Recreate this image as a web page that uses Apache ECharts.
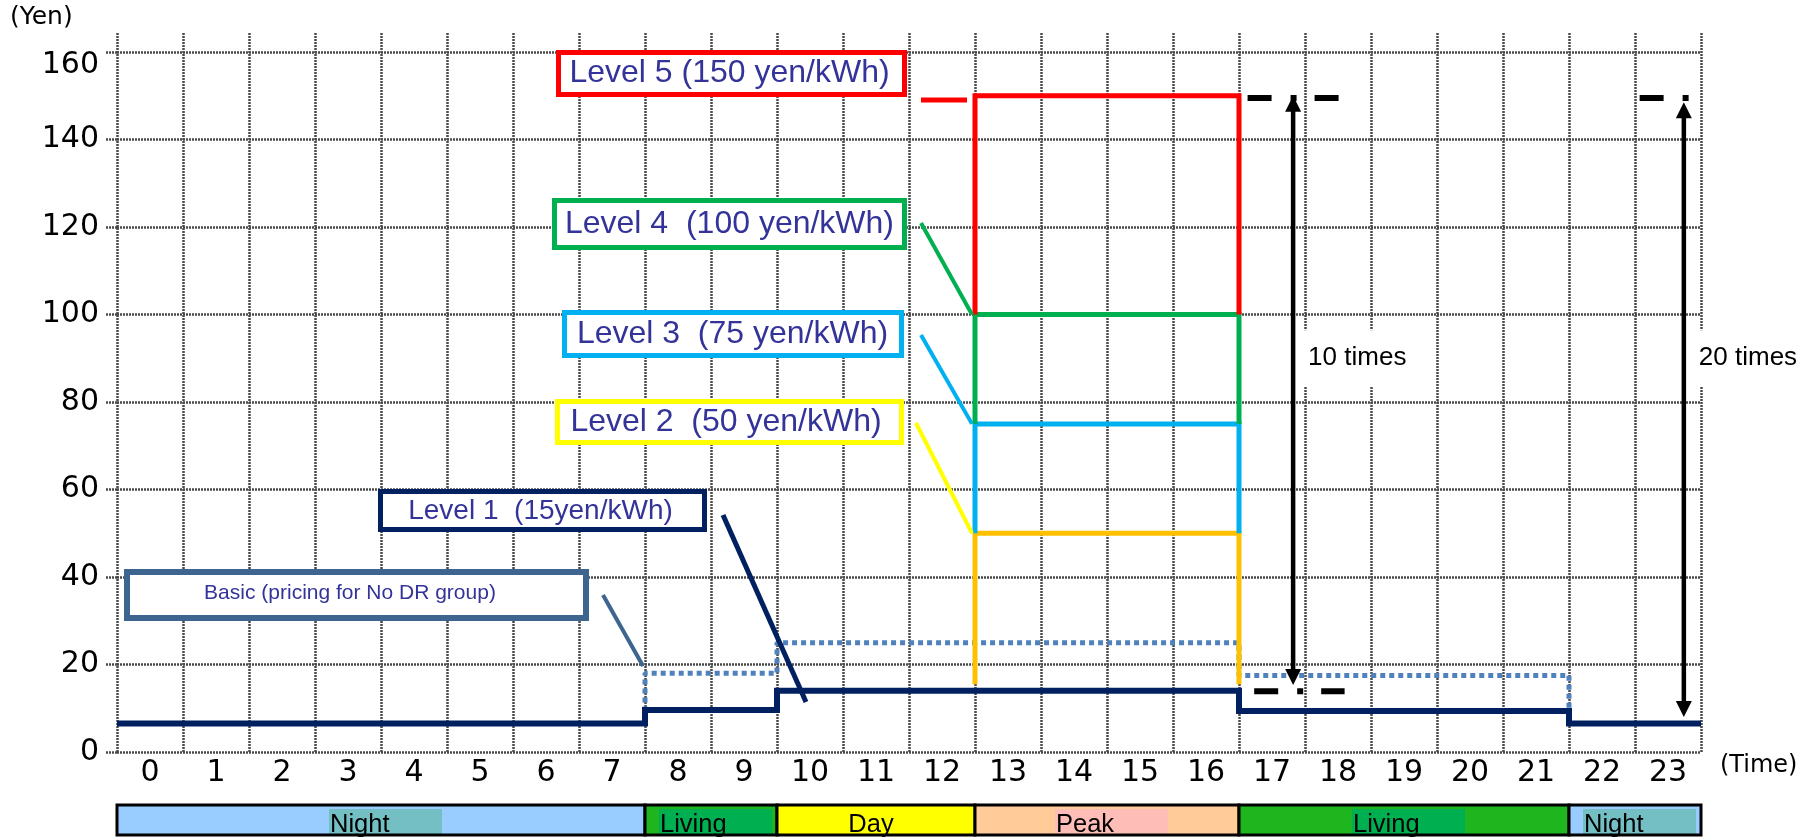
<!DOCTYPE html>
<html><head><meta charset="utf-8">
<script src="https://cdn.jsdelivr.net/npm/echarts@6/dist/echarts.min.js"></script>
<style>html,body{margin:0;padding:0;background:#fff}#c{width:1812px;height:840px}</style>
</head><body><div id="c"></div>
<script>
// ---------- data ----------
const hourLabels = ['0','1','2','3','4','5','6','7','8','9','10','11','12','13','14','15','16','17','18','19','20','21','22','23'];
const level1Price = [6.5,6.5,6.5,6.5,6.5,6.5,6.5,6.5, 9.6,9.6, 14,14,14,14,14,14,14, 9.4,9.4,9.4,9.4,9.4, 6.5,6.5];
const basicPrice  = [6.5,6.5,6.5,6.5,6.5,6.5,6.5,6.5, 18,18, 25,25,25,25,25,25,25, 17.5,17.5,17.5,17.5,17.5, 6.5,6.5];
const peakHours   = [13,14,15,16];
const level2Price = [50,50,50,50];
const level3Price = [75,75,75,75];
const level4Price = [100,100,100,100];
const level5Price = [150,150,150,150];
const peakLegBase = [15.5, 50, 75, 100];
const bandNames = ['Night','Living','Day','Peak','Living','Night'];
const bandStart = [0,8,10,13,17,22];
const bandEnd   = [8,10,13,17,22,24];
const ratioLabels = ['10 times','20 times'];
const ratioLow  = [15.3, 8];
const ratioHigh = [150, 148.5];
const refValues = [149.5, 13.9, 149.5];

// ---------- layout / styles ----------
const ratioHour = [17.82, 23.74];
const ratioTextAt = 90;
const refSpan = [[17.13,18.51],[17.23,18.6],[23.07,24.44]];
const levelColors = ['#ffc000','#00b0f0','#00b050','#ff0000'];
const bandFill = {Night:'#99ccff', Living:'#1fb51f', Day:'#ffff00', Peak:'#ffcc99'};
const bandHi = {Night:'#74bfc4', Living:'#00b050', Day:null, Peak:'#ffbdb7'};
const gridLine = {color:'#4a4a4a', width:2.5, type:[2,1]};
const tickFont = 'DejaVu Sans';

function hourly(values){
  const pts = values.map((v,i)=>[i, v]);
  pts.push([values.length, values[values.length-1]]);
  return pts;
}
function peakPath(values, base){
  const pts = [[peakHours[0], base]];
  peakHours.forEach((h,i)=>pts.push([h, values[i]]));
  const end = peakHours[peakHours.length-1] + 1;
  pts.push([end, values[values.length-1]]);
  pts.push([end, base]);
  return pts;
}

const chart = echarts.init(document.getElementById('c'), null, {renderer:'canvas'});
const peakSets = [level2Price, level3Price, level4Price, level5Price];

const series = [
  {type:'line', xAxisIndex:0, yAxisIndex:0, step:'end', data:hourly(basicPrice), symbol:'none', z:2,
   lineStyle:{color:'#4f81bd', width:5, type:[5,4], cap:'butt'}},
  {type:'line', xAxisIndex:0, yAxisIndex:0, step:'end', data:hourly(level1Price), symbol:'none', z:3,
   lineStyle:{color:'#002060', width:6, join:'miter'}}
];
peakSets.forEach((vals,i)=>{
  series.push({type:'line', xAxisIndex:0, yAxisIndex:0, step:'end', data:peakPath(vals, peakLegBase[i]),
    symbol:'none', z:4+i, clip:false, lineStyle:{color:levelColors[i], width:5, join:'miter', cap:'butt'}});
});
refValues.forEach((v,i)=>{
  series.push({type:'line', xAxisIndex:0, yAxisIndex:0, data:[[refSpan[i][0], v],[refSpan[i][1], v]],
    symbol:'none', z:9, clip:false, lineStyle:{color:'#000', width:6, type:[24,19,6,18], cap:'butt'}});
});
series.push({
  type:'custom', coordinateSystem:'cartesian2d', xAxisIndex:0, yAxisIndex:0, z:10, clip:false,
  encode:{x:0, y:[1,2]},
  data: ratioLabels.map((t,i)=>[ratioHour[i], ratioLow[i], ratioHigh[i], i]),
  renderItem:function(params, api){
    const x = api.value(0), lo = api.value(1), hi = api.value(2), idx = api.value(3);
    const pLo = api.coord([x, lo]), pHi = api.coord([x, hi]);
    const pT = api.coord([x, ratioTextAt]);
    const hw = 8, hl = 16;
    return {type:'group', children:[
      {type:'text', style:{text:ratioLabels[idx], x:pLo[0]+10, y:pT[1], font:'26px "Liberation Sans", Arial', fill:'#000',
        align:'left', verticalAlign:'middle', backgroundColor:'#fff', padding:[15,4,15,5]}},
      {type:'line', shape:{x1:pLo[0], y1:pLo[1]-hl+2, x2:pHi[0], y2:pHi[1]+hl-2}, style:{stroke:'#000', lineWidth:4.5}},
      {type:'polygon', shape:{points:[[pHi[0],pHi[1]],[pHi[0]-hw,pHi[1]+hl],[pHi[0]+hw,pHi[1]+hl]]}, style:{fill:'#000'}},
      {type:'polygon', shape:{points:[[pLo[0],pLo[1]],[pLo[0]-hw,pLo[1]-hl],[pLo[0]+hw,pLo[1]-hl]]}, style:{fill:'#000'}}
    ]};
  }
});
series.push({
  type:'custom', coordinateSystem:'cartesian2d', xAxisIndex:3, yAxisIndex:2, z:5, clip:false,
  encode:{x:[0,1], y:[2,3]},
  data: bandNames.map((n,i)=>[bandStart[i], bandEnd[i], 0, 1, i]),
  renderItem:function(params, api){
    const s = api.value(0), e = api.value(1), idx = api.value(4);
    const name = bandNames[idx];
    const p0 = api.coord([s, 1]), p1 = api.coord([e, 0]);
    const w = p1[0]-p0[0], h = p1[1]-p0[1];
    const cx = (p0[0]+p1[0])/2;
    const children = [{type:'rect', shape:{x:p0[0], y:p0[1], width:w, height:h}, style:{fill:bandFill[name]}}];
    const hi = bandHi[name];
    const ty = p1[1]-10.5;
    const font = '25.5px "Liberation Sans", Arial';
    if (hi) {
      const hx = cx + 4.5 - 56.5;
      children.push({type:'rect', shape:{x:hx, y:p0[1]+4, width:113, height:h-5}, style:{fill:hi}});
      children.push({type:'text', style:{text:name, x:hx+1, y:ty, font:font, fill:'#000', align:'left', verticalAlign:'middle'}});
    } else {
      children.push({type:'text', style:{text:name, x:cx-5, y:ty, font:font, fill:'#000', align:'center', verticalAlign:'middle'}});
    }
    children.push({type:'rect', shape:{x:p0[0], y:p0[1], width:w, height:h}, style:{fill:null, stroke:'#000', lineWidth:3}});
    return {type:'group', children:children};
  }
});

const option = {
  animation:false,
  backgroundColor:'#fff',
  title:{text:'(Yen)', left:10, top:5, padding:0,
    textStyle:{fontFamily:tickFont, fontSize:25, fontWeight:'normal', color:'#000'}},
  grid:[
    {left:117, right:111, top:52, bottom:88, outerBoundsMode:'none'},
    {left:117, right:111, top:33, bottom:88, outerBoundsMode:'none'},
    {left:117, right:111, top:805, height:30, outerBoundsMode:'none'}
  ],
  xAxis:[
    {gridIndex:0, type:'value', min:0, max:24, show:false},
    {gridIndex:0, type:'category', data:hourLabels, boundaryGap:true, position:'bottom',
     axisLine:{show:false}, axisTick:{show:false}, splitLine:{show:false},
     axisLabel:{interval:0, margin:6, fontFamily:tickFont, fontSize:30, color:'#000'},
     name:'(Time)', nameLocation:'end', nameGap:19,
     nameTextStyle:{fontFamily:tickFont, fontSize:24, color:'#000', verticalAlign:'top', padding:[2,0,0,0]}},
    {gridIndex:1, type:'value', min:0, max:24, interval:1, axisLine:{show:false}, axisTick:{show:false},
     axisLabel:{show:false}, splitLine:{show:true, lineStyle:gridLine}},
    {gridIndex:2, type:'value', min:0, max:24, show:false}
  ],
  yAxis:[
    {gridIndex:0, type:'value', min:0, max:160, interval:20,
     axisLine:{show:false}, axisTick:{show:true, length:11, lineStyle:gridLine},
     splitLine:{show:true, lineStyle:gridLine},
     axisLabel:{margin:18, fontFamily:tickFont, fontSize:30, color:'#000',
       formatter:function(v){ return v === 160 ? '{top|160}' : String(v); },
       rich:{top:{padding:[26,0,0,0], fontFamily:tickFont, fontSize:30, color:'#000'}}}},
    {gridIndex:1, type:'value', min:0, max:1, show:false},
    {gridIndex:2, type:'value', min:0, max:1, show:false}
  ],
  series:series
};
chart.setOption(option);

// ---------- annotation boxes ----------
const toPx = (pt)=>chart.convertToPixel({seriesIndex:1}, pt);
const c100 = toPx([13,100]), c75 = toPx([13,75]), c50 = toPx([13,50]);
const textColor = '#333399';
const boxes = [
  {text:'Level 5 (150 yen/kWh)', x:558.5, y:52.5, w:346, h:42, color:'#ff0000', lw:5, fs:32, tx:729.5, ty:73.5},
  {text:'Level 4  (100 yen/kWh)', x:554.5, y:200.5, w:350, h:47, color:'#00b050', lw:5, fs:32, tx:729.5, ty:224.5},
  {text:'Level 3  (75 yen/kWh)', x:564.5, y:312.5, w:337, h:43, color:'#00b0f0', lw:5, fs:32, tx:732.5, ty:334.5},
  {text:'Level 2  (50 yen/kWh)', x:557.5, y:401.5, w:344, h:41, color:'#ffff00', lw:5, fs:32, tx:726, ty:422.5},
  {text:'Level 1  (15yen/kWh)', x:380.5, y:491.5, w:324, h:38, color:'#002060', lw:5, fs:28, tx:540.5, ty:511},
  {text:'Basic (pricing for No DR group)', x:127, y:572, w:459, h:46, color:'#3d6590', lw:6, fs:21, tx:350, ty:593}
];
const leaders = [
  {x1:921, y1:100, x2:967, y2:100, color:'#ff0000', lw:5},
  {x1:921, y1:223, x2:c100[0]-3, y2:c100[1], color:'#00b050', lw:4},
  {x1:921, y1:335, x2:c75[0]-3, y2:c75[1], color:'#00b0f0', lw:4},
  {x1:916, y1:423, x2:c50[0]-3, y2:c50[1], color:'#ffff00', lw:4},
  {x1:723, y1:515, x2:806, y2:702, color:'#002060', lw:5},
  {x1:603, y1:595, x2:643, y2:666, color:'#3d6590', lw:4}
];
const graphic = [];
leaders.forEach(l=>graphic.push({type:'line', z:100, shape:{x1:l.x1,y1:l.y1,x2:l.x2,y2:l.y2},
  style:{stroke:l.color, lineWidth:l.lw}}));
boxes.forEach(b=>{
  graphic.push({type:'rect', z:101, shape:{x:b.x, y:b.y, width:b.w, height:b.h},
    style:{fill:'#fff', stroke:b.color, lineWidth:b.lw}});
  graphic.push({type:'text', z:102, style:{text:b.text, x:b.tx, y:b.ty, fill:textColor,
    font:b.fs+'px "Liberation Sans", Arial', align:'center', verticalAlign:'middle'}});
});
chart.setOption({graphic:graphic});
</script>
</body></html>
